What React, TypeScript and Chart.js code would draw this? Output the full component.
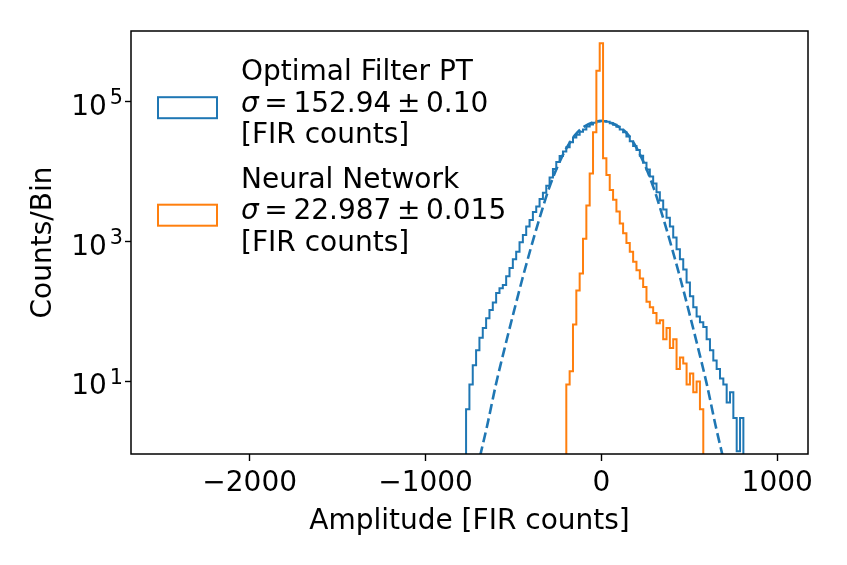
import React, { useEffect, useRef } from 'react';
import { Chart, registerables } from 'chart.js';

Chart.register(...registerables);

const BLUE = '#1f77b4';
const ORANGE = '#ff7f0e';
const FONT = '"DejaVu Sans", sans-serif';
const FONT_SIZE = 28;

// histogram bins: edge i = start + i * BIN_WIDTH
const BIN_WIDTH = 19;
// empty bins sit below the axis floor so the outline drops to the frame
const EMPTY_BIN = 0.1;

const optimalFilterStart = -769.5;
const optimalFilterCounts = [
  4, 9, 17, 28, 42, 58, 80, 105, 135, 185,
  215, 240, 320, 420, 560, 720, 980, 1250, 1650, 2050,
  2650, 3200, 4100, 5000, 6300, 8300, 11000, 13800, 16800, 19500,
  22500, 26500, 31000, 34000, 37500, 40500, 44500, 47500, 50500, 52500,
  54000,
  53500, 52000, 49500, 47000, 44000, 40500, 37000, 32000, 27500, 23500,
  20500, 17000, 13500, 10800, 8600, 6800, 5100, 3900, 2900, 2200,
  1650, 1150, 780, 560, 400, 260, 165, 115, 85, 70,
  60, 40, 28, 20, 15, 11, 9, 5, 7, 3,
  1, 3,
];

const neuralNetStart = -199.5;
const neuralNetCounts = [
  9, 14, 65, 200, 350, 1100, 3300, 9500, 37000, 280000,
  690000,
  15600, 9000, 5500, 4000, 2700, 1820, 1320, 960, 720, 515,
  390, 297, 225, 138, 115, 95, 68, 75, 40, 58,
  30, 40, 15, 22, 18, 9, 13, 7, 10, 4,
];

// gaussian fit of the optimal filter distribution
const fitAmplitude = [
  -690, -650, -600, -550, -500, -450, -400, -350, -300, -250, -200, -150, -100, -50,
  0, 50, 100, 150, 200, 250, 300, 350, 400, 450, 500, 550, 600, 650, 690,
];
const fitCounts = [
  0.85, 2.3, 9, 30, 95, 290, 830, 2240, 5600, 11800, 21500, 33500, 44000, 51000,
  53500, 51000, 44000, 34500, 22000, 12000, 5600, 2240, 830, 290, 95, 30, 9, 2.3, 0.85,
];

const xTickValues = [-2000, -1000, 0, 1000];
const yTickExponents = [1, 3, 5];

const legendItems = [
  { color: BLUE, name: 'Optimal Filter PT', sigma: '152.94', err: '0.10', unit: '[FIR counts]' },
  { color: ORANGE, name: 'Neural Network', sigma: '22.987', err: '0.015', unit: '[FIR counts]' },
];

const X_MIN = -2675;
const X_MAX = 1175;
const Y_MIN = 0.914;
const Y_MAX = 1.037e6;

function stepOutline(start: number, counts: number[]) {
  const pts = [{ x: start, y: EMPTY_BIN }];
  counts.forEach((c, i) => pts.push({ x: start + i * BIN_WIDTH, y: c }));
  const end = start + counts.length * BIN_WIDTH;
  pts.push({ x: end, y: counts[counts.length - 1] });
  pts.push({ x: end, y: EMPTY_BIN });
  return pts;
}

const framePlugin = {
  id: 'frame',
  afterDatasetsDraw(chart: any) {
    const { ctx, chartArea: a } = chart;
    ctx.save();
    ctx.strokeStyle = '#000';
    ctx.lineWidth = 1.5;
    ctx.strokeRect(a.left, a.top, a.right - a.left, a.bottom - a.top);
    ctx.restore();
  },
};

const logLabelsPlugin = {
  id: 'logLabels',
  afterDraw(chart: any) {
    const { ctx } = chart;
    const y = chart.scales.y;
    const supSize = FONT_SIZE * 0.74;
    ctx.save();
    ctx.fillStyle = '#000';
    ctx.textBaseline = 'alphabetic';
    yTickExponents.forEach((e) => {
      const py = y.getPixelForValue(Math.pow(10, e));
      const sup = String(e);
      ctx.font = `${supSize}px ${FONT}`;
      const supW = ctx.measureText(sup).width;
      ctx.font = `${FONT_SIZE}px ${FONT}`;
      const baseW = ctx.measureText('10').width;
      const right = y.right - 8;
      const base = py + 13;
      ctx.fillText('10', right - supW - baseW - 3, base);
      ctx.font = `${supSize}px ${FONT}`;
      ctx.fillText(sup, right - supW, base - 10.5);
    });
    ctx.restore();
  },
};

const legendPlugin = {
  id: 'histLegend',
  afterDraw(chart: any) {
    const { ctx } = chart;
    const textX = 241;
    const lineGap = 31.7;
    ctx.save();
    ctx.fillStyle = '#000';
    ctx.textBaseline = 'alphabetic';
    legendItems.forEach((item, i) => {
      const top = 80 + i * 107.5;
      ctx.font = `${FONT_SIZE}px ${FONT}`;
      ctx.fillText(item.name, textX, top);
      const mid = top + lineGap;
      let x = textX;
      const space = 0.2 * FONT_SIZE;
      ctx.font = `italic ${FONT_SIZE}px ${FONT}`;
      ctx.fillText('\u03c3', x, mid);
      x += ctx.measureText('\u03c3').width + space;
      ctx.font = `${FONT_SIZE}px ${FONT}`;
      [['=', true], [item.sigma, true], ['\u00b1', true], [item.err, false]].forEach(([part, gap]) => {
        ctx.fillText(part as string, x, mid);
        x += ctx.measureText(part as string).width + (gap ? space : 0);
      });
      ctx.fillText(item.unit, textX, mid + lineGap);

      ctx.strokeStyle = item.color;
      ctx.lineWidth = 2;
      ctx.strokeRect(158, mid - 4 - 10.5, 59, 21);
    });
    ctx.restore();
  },
};

const App: React.FC = () => {
  const canvasRef = useRef<HTMLCanvasElement>(null);
  const chartRef = useRef<Chart | null>(null);

  useEffect(() => {
    if (!canvasRef.current) return;
    if (chartRef.current) chartRef.current.destroy();

    const tickGrid = (len: number) => ({
      display: true,
      drawOnChartArea: false,
      drawTicks: true,
      tickLength: len,
      tickWidth: 1.4,
      tickColor: '#000',
    });

    chartRef.current = new Chart(canvasRef.current, {
      type: 'line',
      data: {
        datasets: [
          {
            label: 'Neural Network',
            data: stepOutline(neuralNetStart, neuralNetCounts),
            borderColor: ORANGE,
            borderWidth: 2,
            stepped: 'before',
            borderJoinStyle: 'miter',
            pointRadius: 0,
            fill: false,
            clip: 0,
            order: 0,
          },
          {
            label: 'Optimal Filter PT',
            data: stepOutline(optimalFilterStart, optimalFilterCounts),
            borderColor: BLUE,
            borderWidth: 2,
            stepped: 'before',
            borderJoinStyle: 'miter',
            pointRadius: 0,
            fill: false,
            clip: 0,
            order: 1,
          },
          {
            label: 'fit',
            data: fitAmplitude.map((x, i) => ({ x, y: fitCounts[i] })),
            borderColor: BLUE,
            borderWidth: 2.6,
            borderDash: [10, 4.5],
            cubicInterpolationMode: 'monotone',
            pointRadius: 0,
            fill: false,
            clip: 0,
            order: 2,
          },
        ],
      },
      options: {
        animation: false,
        responsive: true,
        maintainAspectRatio: false,
        events: [],
        layout: { padding: { left: 0, top: 31, right: 39, bottom: 0 } },
        plugins: {
          legend: { display: false },
          tooltip: { enabled: false },
        },
        scales: {
          x: {
            type: 'linear',
            min: X_MIN,
            max: X_MAX,
            afterBuildTicks: (s: any) => {
              s.ticks = xTickValues.map((v) => ({ value: v }));
            },
            afterFit: (s: any) => {
              s.height = 111;
            },
            grid: tickGrid(7),
            border: { display: false },
            ticks: {
              autoSkip: false,
              maxRotation: 0,
              padding: 6,
              color: '#000',
              font: { family: FONT, size: FONT_SIZE },
              callback: (v: any) => (Number(v) < 0 ? '\u2212' + Math.abs(Number(v)) : String(v)),
            },
            title: {
              display: true,
              text: 'Amplitude [FIR counts]',
              color: '#000',
              font: { family: FONT, size: FONT_SIZE },
              padding: { top: 0, bottom: 26 },
            },
          },
          y: {
            type: 'logarithmic',
            min: Y_MIN,
            max: Y_MAX,
            afterBuildTicks: (s: any) => {
              s.ticks = yTickExponents.map((e) => ({ value: Math.pow(10, e) }));
            },
            afterFit: (s: any) => {
              s.width = 131;
            },
            grid: tickGrid(6),
            border: { display: false },
            ticks: {
              autoSkip: false,
              color: '#000',
              font: { family: FONT, size: FONT_SIZE },
              callback: () => '',
            },
            title: {
              display: true,
              text: 'Counts/Bin',
              color: '#000',
              font: { family: FONT, size: FONT_SIZE },
              padding: { top: 27, bottom: 0 },
            },
          },
        },
      } as any,
      plugins: [framePlugin, logLabelsPlugin, legendPlugin],
    });

    return () => {
      if (chartRef.current) {
        chartRef.current.destroy();
        chartRef.current = null;
      }
    };
  }, []);

  return (
    <div style={{ position: 'absolute', left: 0, top: 0, width: 847, height: 565, background: '#fff' }}>
      <canvas ref={canvasRef}></canvas>
    </div>
  );
};

export default App;
